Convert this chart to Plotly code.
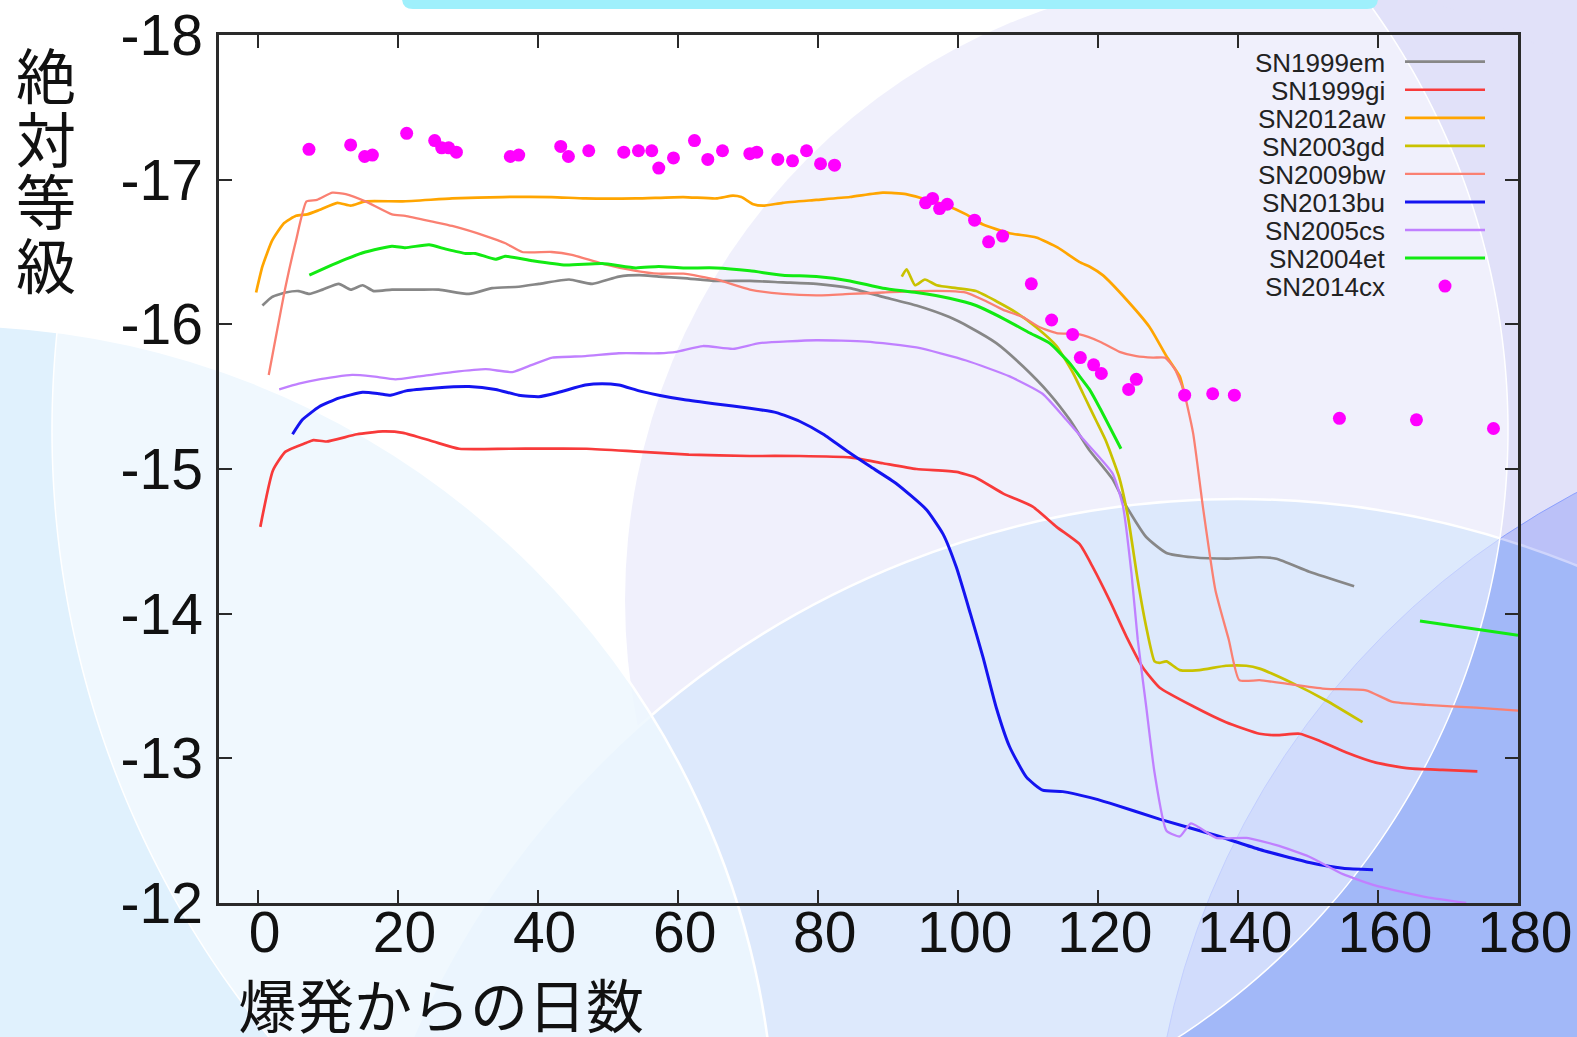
import numpy as np
import plotly.graph_objects as go

# ---------------------------------------------------------------
# Light curves: days since explosion vs. absolute magnitude
# ---------------------------------------------------------------
sn1999em_day = [0.7, 2.1, 4.0, 5.9, 7.4, 9.3, 11.6, 13.3, 15.0, 16.6, 19.2, 23.0, 25.9, 30.2,
                33.5, 37.3, 40.2, 44.5, 47.8, 51.6, 54.5, 57.3, 60.8, 65.5, 70.3, 75.0, 79.8,
                84.6, 89.3, 94.1, 98.8, 101.7, 105.5, 109.3, 113.1, 116.0, 118.8, 122.1, 124.1,
                126.9, 129.8, 133.6, 138.3, 143.1, 145.5, 150.2, 156.6]
sn1999em_mag = [-16.13, -16.19, -16.22, -16.23, -16.21, -16.24, -16.28, -16.24, -16.27, -16.23,
                -16.24, -16.24, -16.24, -16.21, -16.25, -16.26, -16.28, -16.31, -16.28, -16.33,
                -16.34, -16.33, -16.32, -16.30, -16.30, -16.29, -16.28, -16.25, -16.19, -16.13,
                -16.05, -15.98, -15.87, -15.71, -15.52, -15.34, -15.13, -14.93, -14.74, -14.53,
                -14.42, -14.39, -14.38, -14.39, -14.38, -14.29, -14.19]

sn1999gi_day = [0.4, 2.2, 4.0, 6.9, 8.0, 9.85, 14.2, 17.9, 20.8, 25.1, 28.8, 36.0, 47.0, 54.3,
                61.6, 70.3, 77.4, 84.6, 89.3, 94.1, 99.8, 102.6, 106.5, 110.7, 114.1, 117.4,
                119.3, 121.7, 124.1, 126.4, 128.8, 133.6, 138.3, 143.1, 145.5, 148.8, 151.7,
                155.5, 159.7, 164.5, 169.2, 174.2]
sn1999gi_mag = [-14.60, -14.99, -15.12, -15.18, -15.20, -15.19, -15.24, -15.26, -15.25, -15.19,
                -15.14, -15.14, -15.14, -15.12, -15.10, -15.09, -15.09, -15.08, -15.04, -15.00,
                -14.98, -14.94, -14.83, -14.74, -14.60, -14.48, -14.32, -14.09, -13.84, -13.63,
                -13.49, -13.36, -13.25, -13.17, -13.16, -13.17, -13.12, -13.04, -12.97, -12.93,
                -12.92, -12.91]

sn2012aw_day = [-0.2, 0.7, 2.1, 3.8, 5.5, 7.1, 8.8, 11.4, 13.3, 15.4, 20.7, 27.8, 35.0, 42.0,
                46.8, 54.0, 60.8, 65.5, 67.9, 69.1, 70.8, 72.2, 75.0, 79.8, 84.6, 89.3, 92.6,
                95.0, 97.9, 101.2, 103.6, 107.4, 111.2, 114.3, 117.4, 118.8, 120.7, 124.1,
                127.4, 129.8, 131.7, 132.4]
sn2012aw_mag = [-16.22, -16.40, -16.58, -16.70, -16.75, -16.76, -16.79, -16.84, -16.82, -16.85,
                -16.85, -16.87, -16.88, -16.88, -16.87, -16.87, -16.88, -16.87, -16.89, -16.88,
                -16.83, -16.82, -16.84, -16.86, -16.88, -16.91, -16.90, -16.87, -16.83, -16.76,
                -16.69, -16.63, -16.60, -16.53, -16.43, -16.40, -16.34, -16.17, -15.98, -15.78,
                -15.64, -15.51]

sn2003gd_day = [92.0, 92.7, 93.9, 95.3, 97.0, 99.8, 102.6, 105.5, 108.4, 111.2, 114.1, 116.5,
                117.9, 118.8, 119.8, 121.1, 123.0, 124.3, 125.7, 126.9, 128.1, 128.8, 129.8,
                131.7, 134.5, 138.3, 141.2, 143.1, 147.8, 152.6, 157.8]
sn2003gd_mag = [-16.33, -16.38, -16.27, -16.31, -16.27, -16.25, -16.23, -16.16, -16.08, -15.98,
                -15.85, -15.66, -15.52, -15.43, -15.33, -15.20, -14.95, -14.67, -14.23, -13.91,
                -13.67, -13.66, -13.67, -13.61, -13.61, -13.64, -13.64, -13.62, -13.52, -13.40,
                -13.25]

sn2009bw_day = [1.6, 4.0, 5.5, 7.0, 8.5, 10.7, 12.6, 15.4, 19.2, 21.1, 25.0, 27.8, 32.6, 35.4,
                37.8, 42.0, 44.9, 49.2, 54.0, 57.3, 60.8, 65.5, 70.3, 75.0, 79.8, 84.6, 89.3,
                94.1, 98.8, 101.2, 103.6, 106.5, 109.3, 111.7, 114.1, 117.4, 120.3, 123.1,
                125.5, 127.9, 129.6, 131.0, 132.2, 133.6, 135.0, 136.8, 138.7, 140.2, 143.1,
                147.8, 152.6, 158.3, 162.1, 166.9, 174.0, 180.0]
sn2009bw_mag = [-15.65, -16.26, -16.58, -16.85, -16.86, -16.91, -16.90, -16.85, -16.76, -16.75,
                -16.71, -16.68, -16.61, -16.56, -16.50, -16.50, -16.48, -16.42, -16.37, -16.35,
                -16.35, -16.31, -16.24, -16.21, -16.20, -16.21, -16.22, -16.23, -16.23, -16.22,
                -16.17, -16.10, -16.05, -15.98, -15.94, -15.93, -15.88, -15.81, -15.78, -15.77,
                -15.77, -15.69, -15.55, -15.25, -14.74, -14.16, -13.82, -13.54, -13.54, -13.51,
                -13.48, -13.47, -13.39, -13.37, -13.35, -13.33]

sn2013bu_day = [5.0, 6.4, 8.8, 11.6, 15.0, 17.4, 19.0, 21.2, 25.4, 30.2, 34.0, 37.3, 40.2, 43.0,
                46.8, 49.2, 51.6, 54.5, 57.3, 60.8, 65.5, 70.3, 74.1, 77.4, 80.8, 84.6, 87.4,
                91.2, 95.5, 97.9, 99.8, 101.8, 103.6, 105.5, 107.4, 109.8, 112.1, 115.0, 118.8,
                121.7, 128.8, 137.4, 143.1, 150.2, 155.0, 159.3]
sn2013bu_mag = [-15.24, -15.34, -15.43, -15.49, -15.53, -15.52, -15.51, -15.54, -15.56, -15.57,
                -15.55, -15.51, -15.50, -15.53, -15.58, -15.59, -15.58, -15.54, -15.51, -15.48,
                -15.45, -15.42, -15.39, -15.33, -15.24, -15.11, -15.02, -14.90, -14.72, -14.55,
                -14.32, -14.00, -13.70, -13.35, -13.08, -12.87, -12.78, -12.77, -12.73, -12.69,
                -12.58, -12.46, -12.37, -12.28, -12.24, -12.23]

sn2005cs_day = [3.1, 5.9, 8.8, 13.5, 16.4, 19.7, 23.0, 27.8, 32.6, 36.4, 39.2, 42.1, 46.8, 51.6,
                57.3, 59.8, 63.6, 67.9, 71.7, 79.8, 86.9, 94.1, 101.2, 107.4, 112.1, 115.5,
                118.4, 122.1, 123.6, 124.8, 125.7, 126.9, 128.1, 129.8, 131.7, 133.3, 136.9,
                141.2, 145.5, 150.2, 155.0, 159.7, 166.9, 172.6]
sn2005cs_mag = [-15.55, -15.59, -15.62, -15.65, -15.64, -15.62, -15.64, -15.67, -15.69, -15.67,
                -15.72, -15.77, -15.78, -15.80, -15.80, -15.81, -15.85, -15.83, -15.87, -15.89,
                -15.88, -15.84, -15.75, -15.64, -15.52, -15.34, -15.18, -14.97, -14.74, -14.28,
                -13.82, -13.36, -12.90, -12.50, -12.46, -12.55, -12.45, -12.45, -12.40, -12.32,
                -12.20, -12.12, -12.04, -12.00]

sn2004et_day = [7.4, 9.7, 12.6, 15.4, 19.2, 21.1, 24.5, 26.9, 29.7, 31.1, 34.0, 35.4, 39.2, 44.0,
                49.2, 54.0, 57.3, 60.8, 65.5, 70.3, 75.0, 79.8, 84.6, 89.3, 94.1, 98.8, 102.6,
                106.5, 110.3, 113.1, 116.0, 117.4, 118.8, 120.3, 123.3, None, 166.0, 180.0]
sn2004et_mag = [-16.34, -16.39, -16.45, -16.50, -16.54, -16.53, -16.55, -16.52, -16.49, -16.49,
                -16.45, -16.47, -16.44, -16.41, -16.42, -16.39, -16.40, -16.39, -16.39, -16.37,
                -16.34, -16.33, -16.30, -16.25, -16.22, -16.18, -16.13, -16.04, -15.94, -15.87,
                -15.73, -15.64, -15.55, -15.42, -15.14, None, -13.95, -13.85]

sn2014cx_day = [7.35, 13.3, 15.3, 16.4, 21.3, 25.3, 26.3, 27.3, 28.4, 36.1, 37.3, 43.3, 44.4,
                47.3, 52.3, 54.4, 56.3, 57.3, 59.4, 62.4, 64.3, 66.4, 70.3, 71.3, 74.3, 76.4,
                78.4, 80.4, 82.4, 95.4, 96.4, 97.4, 98.5, 102.4, 104.4, 106.4, 110.5, 113.4,
                116.4, 117.5, 119.4, 120.5, 124.4, 125.5, 132.4, 136.4, 139.5, 154.5, 165.5,
                176.5]
sn2014cx_mag = [-17.21, -17.24, -17.16, -17.17, -17.32, -17.27, -17.22, -17.22, -17.19, -17.16,
                -17.17, -17.23, -17.16, -17.20, -17.19, -17.20, -17.20, -17.08, -17.15, -17.27,
                -17.14, -17.20, -17.18, -17.19, -17.14, -17.13, -17.20, -17.11, -17.10, -16.84,
                -16.87, -16.80, -16.83, -16.72, -16.57, -16.61, -16.28, -16.03, -15.93, -15.77,
                -15.72, -15.66, -15.55, -15.62, -15.51, -15.52, -15.51, -15.35, -15.34, -15.28]

line_names = ["SN1999em", "SN1999gi", "SN2012aw", "SN2003gd", "SN2009bw",
              "SN2013bu", "SN2005cs", "SN2004et"]
line_days = [sn1999em_day, sn1999gi_day, sn2012aw_day, sn2003gd_day, sn2009bw_day,
             sn2013bu_day, sn2005cs_day, sn2004et_day]
line_mags = [sn1999em_mag, sn1999gi_mag, sn2012aw_mag, sn2003gd_mag, sn2009bw_mag,
             sn2013bu_mag, sn2005cs_mag, sn2004et_mag]
line_colors = ["#878787", "#f83a3a", "#ffa500", "#c9c200", "#fa8072",
               "#1414f0", "#c080ff", "#12ea12"]
line_widths = [2.7, 2.7, 2.7, 2.7, 2.3, 3.0, 2.3, 3.0]
point_name = "SN2014cx"
point_color = "#ff00ff"

x_tick_vals = [0, 20, 40, 60, 80, 100, 120, 140, 160, 180]
x_tick_labels = ["0", "20", "40", "60", "80", "100", "120", "140", "160", "180"]
y_tick_vals = [-18, -17, -16, -15, -14, -13, -12]
y_tick_labels = ["-18", "-17", "-16", "-15", "-14", "-13", "-12"]
x_title = "爆発からの日数"
y_title = "絶対等級"

# ---------------------------------------------------------------
# Canvas geometry (pixels) and helpers to place decoration in paper units
# ---------------------------------------------------------------
FIG_W, FIG_H = 1577, 1037
ML, MR, MT, MB = 219, 59, 35, 134
PW, PH = FIG_W - ML - MR, FIG_H - MT - MB


def px(X):
    return (X - ML) / PW


def py(Y):
    return 1 - (Y - MT) / PH


def circle(cx, cy, r, fill, line_color=None, line_width=0):
    return dict(type="circle", xref="paper", yref="paper", layer="below",
                x0=px(cx - r), x1=px(cx + r), y0=py(cy + r), y1=py(cy - r),
                fillcolor=fill,
                line=dict(color=line_color or "rgba(0,0,0,0)", width=line_width))


def poly_path(points):
    parts = ["M {:.5f},{:.5f}".format(px(points[0][0]), py(points[0][1]))]
    for X, Y in points[1:]:
        parts.append("L {:.5f},{:.5f}".format(px(X), py(Y)))
    return " ".join(parts) + " Z"


# big translucent white lens: left arc and right arc of two circles
ys = np.linspace(-30, 1070, 120)
left_arc = [(1010 - np.sqrt(958 ** 2 - (y - 430) ** 2), y) for y in ys]
right_arc = [(784 + np.sqrt(724 ** 2 - (y - 430) ** 2), y) for y in ys[::-1]]
lens_path = poly_path(left_arc + right_arc)

# rounded tab at the top of the slide
tx0, tx1, tyb, rr = 402, 1378, 9, 11
tab_path = ("M {a},{top} L {a},{b1} Q {a},{b} {a2},{b} L {c2},{b} Q {c},{b} {c},{b1} "
            "L {c},{top} Z").format(a=px(tx0), a2=px(tx0 + rr), c=px(tx1), c2=px(tx1 - rr),
                                   b=py(tyb), b1=py(tyb - rr), top=py(-40))

shapes = [
    dict(type="rect", xref="paper", yref="paper", layer="below",
         x0=px(1400), x1=px(1600), y0=py(560), y1=py(-20),
         fillcolor="#e1e1f9", line=dict(width=0)),
    circle(1250, 600, 625, "#e1e1f9"),
    circle(1237, 1399, 900, "#bbd3f9", "white", 2.5),
    circle(1950, 1200, 800, "rgba(118,136,245,0.35)", "rgba(120,145,255,0.75)", 1),
    circle(-50, 1150, 825, "rgba(218,238,253,0.85)", "white", 2.5),
    dict(type="path", xref="paper", yref="paper", layer="below", path=lens_path,
         fillcolor="rgba(255,255,255,0.5)", line=dict(color="white", width=1.5)),
    dict(type="path", xref="paper", yref="paper", layer="below", path=tab_path,
         fillcolor="#9ff0fc", line=dict(width=0)),
]

# ---------------------------------------------------------------
# Figure
# ---------------------------------------------------------------
fig = go.Figure()
for name, d, m, c, w in zip(line_names, line_days, line_mags, line_colors, line_widths):
    fig.add_trace(go.Scatter(x=d, y=m, mode="lines", name=name,
                             line=dict(color=c, width=w, shape="spline", smoothing=0.5),
                             connectgaps=False))
fig.add_trace(go.Scatter(x=sn2014cx_day, y=sn2014cx_mag, mode="markers", name=point_name,
                         marker=dict(color=point_color, size=13, line=dict(width=0))))

# key, drawn at the upper right with names on the left of each sample
annotations = []
key_right, key_top, key_step = 1386.7, 61.7, 28.05
for i, (name, c, w) in enumerate(zip(line_names + [point_name],
                                     line_colors + [point_color],
                                     line_widths + [0])):
    Y = key_top + i * key_step
    annotations.append(dict(xref="paper", yref="paper", x=px(key_right), y=py(Y + 1),
                            xanchor="right", yanchor="middle", showarrow=False, text=name,
                            font=dict(family="Liberation Sans, Arial, sans-serif",
                                      size=26, color="#222222")))
    if i < len(line_names):
        shapes.append(dict(type="line", xref="paper", yref="paper", layer="above",
                           x0=px(1405), x1=px(1485), y0=py(Y), y1=py(Y),
                           line=dict(color=c, width=w)))
    else:
        shapes.append(dict(type="circle", xref="paper", yref="paper", layer="above",
                           x0=px(1438.5), x1=px(1451.5), y0=py(Y + 6.5), y1=py(Y - 6.5),
                           fillcolor=c, line=dict(width=0)))

# vertical axis title, one character per row
for k, ch in enumerate(y_title):
    annotations.append(dict(xref="paper", yref="paper", x=px(46), y=py(73 + 63 * k),
                            xanchor="center", yanchor="middle", showarrow=False, text=ch,
                            font=dict(family="Noto Sans CJK JP", size=60, color="#111111")))
annotations.append(dict(xref="paper", yref="paper", x=px(441), y=py(1003),
                        xanchor="center", yanchor="middle", showarrow=False, text=x_title,
                        font=dict(family="Noto Sans CJK JP", size=58, color="#111111")))

axis_common = dict(showline=True, linecolor="#2a2a2a", linewidth=2.5, mirror="ticks",
                   ticks="inside", ticklen=13, tickwidth=1.6, tickcolor="#2a2a2a",
                   showgrid=False, zeroline=False, automargin=False,
                   tickfont=dict(family="Liberation Sans, Arial, sans-serif", size=57,
                                 color="#111111"))

fig.update_xaxes(range=[-5.5, 180], tickmode="array", tickvals=x_tick_vals,
                 ticktext=x_tick_labels, ticklabelshift=7, ticklabelstandoff=-22,
                 **axis_common)
fig.update_yaxes(range=[-12, -18], tickmode="array", tickvals=y_tick_vals,
                 ticktext=y_tick_labels, ticklabelstandoff=2, **axis_common)

fig.update_layout(width=FIG_W, height=FIG_H,
                  margin=dict(l=ML, r=MR, t=MT, b=MB, pad=0),
                  paper_bgcolor="white", plot_bgcolor="rgba(0,0,0,0)",
                  showlegend=False, shapes=shapes, annotations=annotations)

fig.write_html("out.html", post_script="document.body.style.margin='0';")
